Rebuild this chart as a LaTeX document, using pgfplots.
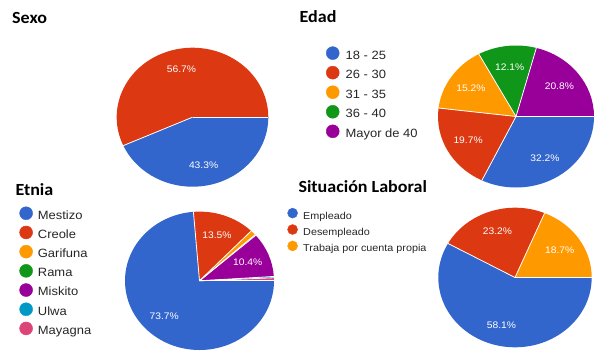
\documentclass[border=0pt]{standalone}
\usepackage{pgfplots}
\usepackage{pgfplotstable}
\pgfplotsset{compat=1.18}
\usepackage{fontspec}
\setmainfont[FakeStretch=1.08]{Liberation Sans}
\newfontfamily\titlefont[FakeStretch=1.06]{Carlito}

\definecolor{gblue}{HTML}{3366CC}
\definecolor{gred}{HTML}{DC3912}
\definecolor{gorange}{HTML}{FF9900}
\definecolor{ggreen}{HTML}{109618}
\definecolor{gpurple}{HTML}{990099}
\definecolor{gcyan}{HTML}{0099C6}
\definecolor{gpink}{HTML}{DD4477}

\pgfplotstableread[col sep=comma]{
name,value,color
Masculino,43.3,gblue
Femenino,56.7,gred
}\sexo
\pgfplotstableread[col sep=comma]{
name,value,color
18 - 25,32.2,gblue
26 - 30,19.7,gred
31 - 35,15.2,gorange
36 - 40,12.1,ggreen
Mayor de 40,20.8,gpurple
}\edad
\pgfplotstableread[col sep=comma]{
name,value,color
Mestizo,73.7,gblue
Creole,13.5,gred
Garifuna,1.2,gorange
Rama,0.2,ggreen
Miskito,10.4,gpurple
Ulwa,0.3,gcyan
Mayagna,0.7,gpink
}\etnia
\pgfplotstableread[col sep=comma]{
name,value,color
Empleado,58.1,gblue
Desempleado,23.2,gred
Trabaja por cuenta propia,18.7,gorange
}\situacion

% #1 table, #2 x radius (pt), #3 y radius (pt)
\newcommand\drawpie[3]{%
  \pgfplotstablegetrowsof{#1}%
  \pgfmathtruncatemacro\npie{\pgfplotsretval-1}%
  % slices
  \def\cum{0}%
  \pgfplotsforeachungrouped \i in {0,...,\npie}{%
    \pgfplotstablegetelem{\i}{value}\of{#1}\let\pv\pgfplotsretval
    \pgfplotstablegetelem{\i}{color}\of{#1}\let\pc\pgfplotsretval
    \pgfmathsetmacro\pa{-\cum*3.6}%
    \pgfmathsetmacro\pb{-(\cum+\pv)*3.6}%
    \pgfmathsetmacro\xa{cos(\pa)}\pgfmathsetmacro\ya{sin(\pa)}%
    \edef\temp{\noexpand\fill[\pc] (axis cs:0,0) -- (axis cs:\xa,\ya) arc[start angle=\pa, end angle=\pb, x radius=#2pt, y radius=#3pt] -- cycle;}%
    \temp
    \pgfmathsetmacro\cum{\cum+\pv}%
  }%
  % white separators
  \def\cum{0}%
  \pgfplotsforeachungrouped \i in {0,...,\npie}{%
    \pgfplotstablegetelem{\i}{value}\of{#1}\let\pv\pgfplotsretval
    \pgfmathsetmacro\pa{-\cum*3.6}%
    \pgfmathsetmacro\xa{cos(\pa)}\pgfmathsetmacro\ya{sin(\pa)}%
    \edef\temp{\noexpand\draw[white, line width=0.8pt] (axis cs:0,0) -- (axis cs:\xa,\ya);}%
    \temp
    \pgfmathsetmacro\cum{\cum+\pv}%
  }%
  % labels
  \def\cum{0}%
  \pgfplotsforeachungrouped \i in {0,...,\npie}{%
    \pgfplotstablegetelem{\i}{value}\of{#1}\let\pv\pgfplotsretval
    \pgfmathsetmacro\pmid{-(\cum+\pv/2)*3.6}%
    \pgfmathsetmacro\xm{0.7*cos(\pmid)}\pgfmathsetmacro\ym{0.7*sin(\pmid)}%
    \pgfmathtruncatemacro\showlab{\pv>5}%
    \ifnum\showlab=1
      \edef\temp{\noexpand\node[white, font=\noexpand\fontsize{9.5}{11}\noexpand\selectfont] at (axis cs:\xm,\ym) {\pv\noexpand\%};}%
      \temp
    \fi
    \pgfmathsetmacro\cum{\cum+\pv}%
  }%
}

\pgfplotsset{
  pieaxis/.style={hide axis, scale only axis, clip=false,
    xmin=-1, xmax=1, ymin=-1, ymax=1, enlargelimits=false},
  pieleg/.style n args={4}{% radius, col sep, row sep, font size
    legend image code/.code={\fill[##1] (0pt,0.33em) circle (#1);},
    legend cell align=left,
    legend style={draw=none, fill=none, inner sep=0pt, anchor=north west,
      column sep=#2, row sep=#3, text=black!85,
      font=\fontsize{#4}{#4}\selectfont,
      nodes={inner sep=0pt, text height=0.72em, text depth=0.2em}},
  },
}

\begin{document}
\begin{tikzpicture}[x=1pt,y=1pt]
\useasboundingbox (0,0) rectangle (609,357);

% Titles
\node[anchor=base west, inner sep=0pt, font=\titlefont\bfseries\fontsize{17}{17}\selectfont] at (12,333.7) {Sexo};
\node[anchor=base west, inner sep=0pt, font=\titlefont\bfseries\fontsize{17}{17}\selectfont] at (299.5,334.3) {Edad};
\node[anchor=base west, inner sep=0pt, font=\titlefont\bfseries\fontsize{17}{17}\selectfont] at (15.3,162) {Etnia};
\node[anchor=base west, inner sep=0pt, font=\titlefont\bfseries\fontsize{17}{17}\selectfont] at (298.3,164.7) {Situación Laboral};

% Sexo
\begin{axis}[pieaxis, width=151.6pt, height=139pt, at={(192.5pt,239.8pt)}, anchor=center]
\drawpie{\sexo}{75.8}{69.5}
\end{axis}

% Edad
\begin{axis}[pieaxis, width=156pt, height=142pt, at={(516pt,240.5pt)}, anchor=center,
  pieleg={6.5pt}{6.2pt}{4.95pt}{12},
  legend style={at={(-0.719,0.995)}}]
\drawpie{\edad}{78}{71}
\addlegendimage{gblue}\addlegendentry{18 - 25}
\addlegendimage{gred}\addlegendentry{26 - 30}
\addlegendimage{gorange}\addlegendentry{31 - 35}
\addlegendimage{ggreen}\addlegendentry{36 - 40}
\addlegendimage{gpurple}\addlegendentry{Mayor de 40}
\end{axis}

% Etnia
\begin{axis}[pieaxis, width=149pt, height=138.4pt, at={(199.5pt,76.2pt)}, anchor=center,
  pieleg={6.5pt}{5.1pt}{4.6pt}{12},
  legend style={at={(-0.710,1.038)}}]
\drawpie{\etnia}{74.5}{69.2}
\addlegendimage{gblue}\addlegendentry{Mestizo}
\addlegendimage{gred}\addlegendentry{Creole}
\addlegendimage{gorange}\addlegendentry{Garifuna}
\addlegendimage{ggreen}\addlegendentry{Rama}
\addlegendimage{gpurple}\addlegendentry{Miskito}
\addlegendimage{gcyan}\addlegendentry{Ulwa}
\addlegendimage{gpink}\addlegendentry{Mayagna}
\end{axis}

% Situacion laboral
\begin{axis}[pieaxis, width=153.4pt, height=139.6pt, at={(515pt,79.5pt)}, anchor=center,
  pieleg={5pt}{5.4pt}{3.3pt}{10},
  legend style={at={(-0.985,1.0)}}]
\drawpie{\situacion}{76.7}{69.8}
\addlegendimage{gblue}\addlegendentry{Empleado}
\addlegendimage{gred}\addlegendentry{Desempleado}
\addlegendimage{gorange}\addlegendentry{Trabaja por cuenta propia}
\end{axis}
\end{tikzpicture}
\end{document}
